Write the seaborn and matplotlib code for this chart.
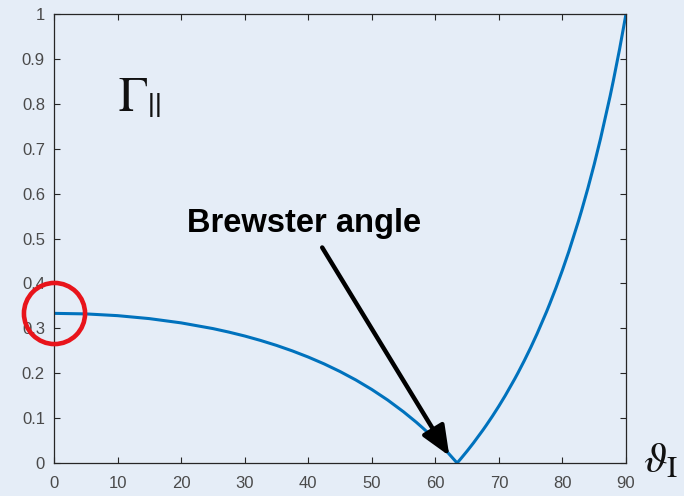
import matplotlib
matplotlib.use("Agg")
import matplotlib.pyplot as plt
import seaborn as sns
import pandas as pd

# Parallel reflection coefficient magnitude vs. angle of incidence (degrees)
angle_deg = [0, 5, 10, 15, 20, 25, 27.5, 30, 32.5, 35, 37.5, 40, 42.5, 45,
             47.5, 50, 52.5, 55, 57, 58, 59, 60, 61, 62, 63.43, 64, 65, 66,
             67.5, 68, 69, 70, 71, 72.5, 73, 74, 75, 76, 77.5, 78, 79, 80,
             81, 82.5, 83, 84, 85, 86, 87.5, 88, 89, 90]
gamma_par = [0.3333, 0.3321, 0.3282, 0.3216, 0.3121, 0.2994, 0.2916, 0.2829,
             0.2730, 0.2620, 0.2497, 0.2360, 0.2208, 0.2038, 0.1849, 0.1638,
             0.1403, 0.1140, 0.0909, 0.0784, 0.0655, 0.0519, 0.0376, 0.0227,
             0.0, 0.0094, 0.0266, 0.0447, 0.0736, 0.0837, 0.1047, 0.1268,
             0.1501, 0.1875, 0.2006, 0.2280, 0.2569, 0.2876, 0.3369, 0.3544,
             0.3908, 0.4296, 0.4708, 0.5378, 0.5616, 0.6117, 0.6652, 0.7227,
             0.8170, 0.8509, 0.9225, 1.0]
x_ticks = list(range(0, 91, 10))
y_ticks = [round(0.1 * i, 1) for i in range(11)]
y_tick_labels = ["0"] + [f"{v:.1f}" for v in y_ticks[1:-1]] + ["1"]

bg = "#e5edf7"
ink = "#262626"
label_ink = "#4a4a4a"

sns.set_style("ticks")
plt.rcParams["font.family"] = ["Liberation Sans", "DejaVu Sans"]
plt.rcParams["mathtext.fontset"] = "stix"

df = pd.DataFrame({"angle": angle_deg, "gamma": gamma_par})

fig = plt.figure(figsize=(6.84, 4.96), dpi=100, facecolor=bg)
ax = fig.add_axes([0.0789, 0.0665, 0.9152 - 0.0789, 0.9718 - 0.0665])
ax.set_facecolor(bg)

sns.lineplot(data=df, x="angle", y="gamma", ax=ax, color="#0072bd",
             linewidth=2.2, sort=False)

ax.set_xlim(0, 90)
ax.set_ylim(0, 1)
ax.set_xticks(x_ticks)
ax.set_yticks(y_ticks)
ax.set_yticklabels(y_tick_labels)
ax.set_xlabel("")
ax.set_ylabel("")
ax.tick_params(direction="in", length=4, width=0.8, color=ink,
               labelsize=12, labelcolor=label_ink, top=True, right=True)
ax.tick_params(axis="x", pad=9.5)
ax.tick_params(axis="y", pad=6.5)
for s in ax.spines.values():
    s.set_color(ink)
    s.set_linewidth(0.9)

# Highlight normal incidence value
ax.plot([angle_deg[0]], [gamma_par[0]], marker="o", markersize=44,
        markerfacecolor="none", markeredgecolor="#e8141b",
        markeredgewidth=3.3, clip_on=False, zorder=5)

# Axis symbols
ax.text(10.1, 0.785, r"$\Gamma_{||}$", fontsize=35, color="#111111",
        ha="left", va="baseline")
fig.text(0.940, 0.048, r"$\vartheta_{\mathrm{I}}$", fontsize=31,
         color="#111111", ha="left", va="baseline")

# Brewster angle annotation
ax.text(20.9, 0.514, "Brewster angle", fontsize=23.5, fontweight="bold",
        color="black", ha="left", va="baseline")
ax.annotate("", xy=(62.2, 0.016), xytext=(42.2, 0.480),
            arrowprops=dict(arrowstyle="-|>,head_length=0.9,head_width=0.38",
                            mutation_scale=20, color="black", lw=3.2,
                            shrinkA=0, shrinkB=0))

fig.savefig("out.png", dpi=100, facecolor=bg)
